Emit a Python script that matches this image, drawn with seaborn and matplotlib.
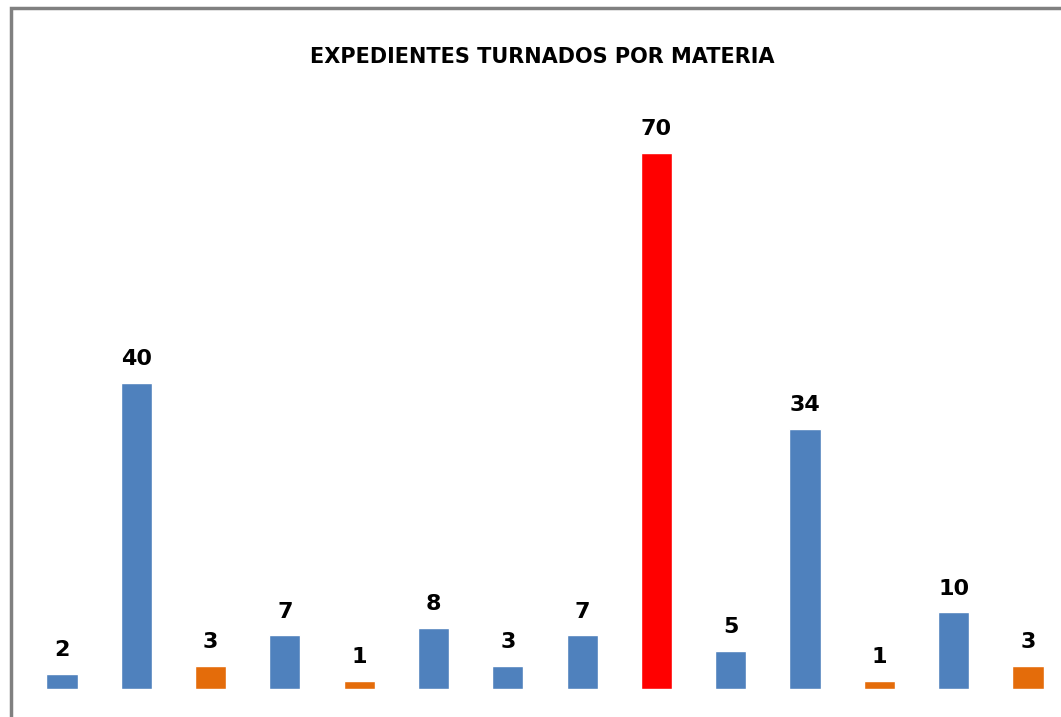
import seaborn as sns
import matplotlib.pyplot as plt
import pandas as pd
from matplotlib.patches import Rectangle

materias = ["M1", "M2", "M3", "M4", "M5", "M6", "M7", "M8", "M9", "M10", "M11", "M12", "M13", "M14"]
expedientes = [2, 40, 3, 7, 1, 8, 3, 7, 70, 5, 34, 1, 10, 3]
colores = ["#4F81BD", "#4F81BD", "#E46C0A", "#4F81BD", "#E46C0A", "#4F81BD", "#4F81BD",
           "#4F81BD", "#FF0000", "#4F81BD", "#4F81BD", "#E46C0A", "#4F81BD", "#E46C0A"]

df = pd.DataFrame({"materia": materias, "expedientes": expedientes})

sns.set_style("white")

fig = plt.figure(figsize=(10.61, 7.17), dpi=100)
ax = fig.add_axes([0, 28 / 717, 1, 689 / 717])

sns.barplot(data=df, x="materia", y="expedientes", hue="materia",
            palette=colores, width=0.42, saturation=1, legend=False, ax=ax)

for c in ax.containers:
    ax.bar_label(c, padding=10, fontsize=16, fontweight="heavy", color="black")

ax.set_xlim(-0.834, 13.445)
ax.set_ylim(0, 90)
ax.axis("off")

fig.text(0.511, 1 - 57 / 717, "EXPEDIENTES TURNADOS POR MATERIA",
         ha="center", va="center", fontsize=15, fontweight="heavy",
         color="black")

fig.patches.append(Rectangle((11 / 1061, -0.1), 1.2, 1 - 8 / 717 + 0.1,
                             transform=fig.transFigure, fill=False,
                             edgecolor="#808080", linewidth=2.5))

fig.savefig("out.png", dpi=100)
